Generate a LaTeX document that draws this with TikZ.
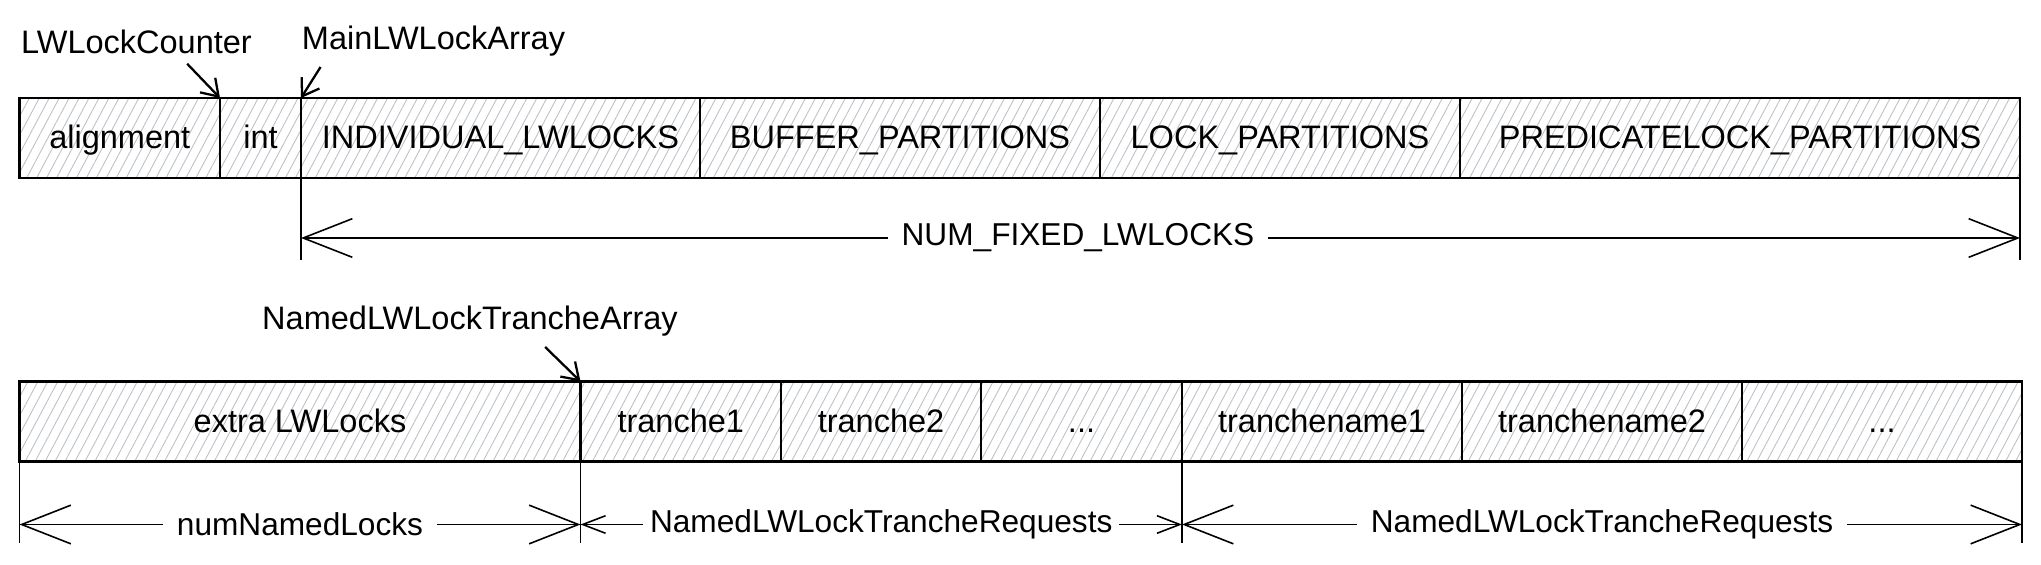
\documentclass[tikz,border=0pt]{standalone}
\usepackage{fontspec}
\setmainfont{Liberation Sans}
\usetikzlibrary{positioning,calc,arrows.meta,patterns.meta}

\definecolor{hatchgray}{HTML}{BCC1C6}
\tikzset{
  cell/.style={rectangle,draw=black,line width=1.6pt,outer sep=0pt,inner sep=0pt,
    minimum height=1.6cm,text height=16pt,text depth=4pt,
    pattern={Lines[angle=62,distance=5pt,line width=0.5pt]},
    pattern color=hatchgray,font=\fontsize{18.5}{22}\selectfont},
  tag/.style={inner sep=0pt,font=\fontsize{18.5}{22}\selectfont},
  callout/.style={line width=1.3pt,-{Straight Barb[length=9pt,width=12pt]}},
  tick/.style={line width=0.9pt},
  dim/.style={line width=0.9pt,{Straight Barb[length=28pt,width=22pt]}-{Straight Barb[length=28pt,width=22pt]}},
  dimsmall/.style={line width=0.9pt,{Straight Barb[length=13pt,width=10pt]}-{Straight Barb[length=13pt,width=10pt]}},
  dimlabel/.style={fill=white,inner xsep=8pt,inner ysep=2pt,font=\fontsize{18}{21}\selectfont}
}

\begin{document}
\begin{tikzpicture}
\useasboundingbox (0,0) rectangle (40.82,-11.3);

% fixed part
\node[cell,minimum width=4.01cm,anchor=west] (alignment) at (0.39,-2.76) {alignment};
\node[cell,minimum width=1.62cm,right=0pt of alignment] (int) {int};
\node[cell,minimum width=7.98cm,right=0pt of int] (individual) {INDIVIDUAL\_LWLOCKS};
\node[cell,minimum width=8cm,right=0pt of individual] (buffer) {BUFFER\_PARTITIONS};
\node[cell,minimum width=7.2cm,right=0pt of buffer] (lock) {LOCK\_PARTITIONS};
\node[cell,minimum width=11.2cm,right=0pt of lock] (predicate) {PREDICATELOCK\_PARTITIONS};

\node[tag] (counter) at (2.73,-0.83) {LWLockCounter};
\node[tag] (mainarray) at (8.67,-0.83) {MainLWLockArray};
\draw[callout] ($(counter.south east)+(-1.3,-0.2)$) -- (int.north west);
\draw[callout] ($(mainarray.south west)+(0.38,-0.2)$) -- (individual.north west);

\coordinate (fixL) at ($(individual.south west)+(0,-1.2)$);
\coordinate (fixR) at ($(predicate.south east)+(0,-1.2)$);
\draw[tick] (individual.south west) -- ++(0,-1.64);
\draw[tick] (predicate.south east) -- ++(0,-1.64);
\draw[dim] (fixL) -- (fixR);
\node[dimlabel] (fixed) at ($(fixL)!0.452!(fixR)$) {NUM\_FIXED\_LWLOCKS};

% named tranches
\node[cell,minimum width=11.22cm,anchor=west] (extra) at (0.39,-8.43) {extra LWLocks};
\node[cell,minimum width=4.01cm,right=0pt of extra] (tranche1) {tranche1};
\node[cell,minimum width=4cm,right=0pt of tranche1] (tranche2) {tranche2};
\node[cell,minimum width=4.02cm,right=0pt of tranche2] (dots1) {...};
\node[cell,minimum width=5.6cm,right=0pt of dots1] (name1) {tranchename1};
\node[cell,minimum width=5.6cm,right=0pt of name1] (name2) {tranchename2};
\node[cell,minimum width=5.6cm,right=0pt of name2] (dots2) {...};

\node[tag] (tranchearray) at (9.40,-6.43) {NamedLWLockTrancheArray};
\draw[callout] ($(tranchearray.south east)+(-2.66,-0.2)$) -- (tranche1.north west);

\coordinate (lockL) at ($(extra.south west)+(0,-1.26)$);
\coordinate (lockR) at ($(extra.south east)+(0,-1.26)$);
\coordinate (reqR) at ($(dots1.south east)+(0,-1.26)$);
\coordinate (nameR) at ($(dots2.south east)+(0,-1.26)$);
\draw[tick] (extra.south west) -- ++(0,-1.64);
\draw[tick] (extra.south east) -- ++(0,-1.64);
\draw[tick] (dots1.south east) -- ++(0,-1.64);
\draw[tick] (dots2.south east) -- ++(0,-1.64);
\draw[dim] (lockL) -- (lockR) node[dimlabel,midway] (numnamed) {numNamedLocks};
\draw[dimsmall] (lockR) -- (reqR) node[dimlabel,inner xsep=4pt,midway] (requests1) {NamedLWLockTrancheRequests};
\draw[dim] (reqR) -- (nameR) node[dimlabel,midway] (requests2) {NamedLWLockTrancheRequests};

\end{tikzpicture}
\end{document}
